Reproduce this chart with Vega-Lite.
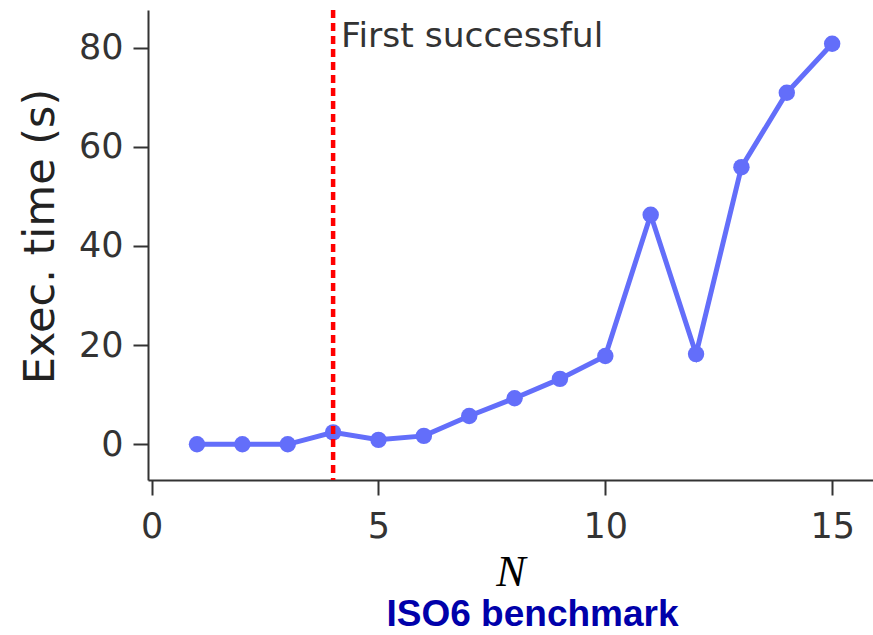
{
  "$schema": "https://vega.github.io/schema/vega-lite/v6.json",
  "autosize": "none",
  "padding": {"left": 148, "top": 10, "right": 0, "bottom": 155},
  "width": 725,
  "height": 470,
  "background": "white",
  "title": {
    "text": "ISO6 benchmark",
    "orient": "bottom",
    "anchor": "middle",
    "dx": 22,
    "offset": 3,
    "font": "Liberation Sans",
    "fontSize": 37,
    "fontWeight": "bold",
    "color": "#0000AA"
  },
  "config": {
    "view": {"stroke": null},
    "axis": {
      "grid": false,
      "domainColor": "#333333",
      "domainWidth": 2,
      "tickColor": "#333333",
      "tickWidth": 2,
      "tickSize": 15,
      "labelFont": "DejaVu Sans",
      "labelFontSize": 35,
      "labelColor": "#333333"
    }
  },
  "datasets": {
    "runs": [
      {"N": 1, "time": 0.0},
      {"N": 2, "time": 0.0},
      {"N": 3, "time": 0.0},
      {"N": 4, "time": 2.4},
      {"N": 5, "time": 0.9},
      {"N": 6, "time": 1.7},
      {"N": 7, "time": 5.7},
      {"N": 8, "time": 9.3},
      {"N": 9, "time": 13.2},
      {"N": 10, "time": 17.8},
      {"N": 11, "time": 46.3},
      {"N": 12, "time": 18.2},
      {"N": 13, "time": 55.9},
      {"N": 14, "time": 70.9},
      {"N": 15, "time": 80.8}
    ],
    "marker": [
      {"N": 4, "time": 80.2, "label": "First successful"}
    ]
  },
  "layer": [
    {
      "data": {"name": "runs"},
      "mark": {"type": "line", "color": "#636EFA", "strokeWidth": 5, "point": {"filled": true, "size": 270, "color": "#636EFA", "opacity": 1}},
      "encoding": {
        "x": {
          "field": "N", "type": "quantitative",
          "scale": {"domain": [-0.08, 15.9], "nice": false, "zero": false},
          "axis": {
            "values": [0, 5, 10, 15],
            "labelPadding": 14,
            "title": "N",
            "titleFont": "Liberation Serif",
            "titleFontStyle": "italic",
            "titleFontWeight": "normal",
            "titleFontSize": 44,
            "titleColor": "#000000",
            "titlePadding": 6
          }
        },
        "y": {
          "field": "time", "type": "quantitative",
          "scale": {"domain": [-7.2, 87.6], "nice": false, "zero": false},
          "axis": {
            "values": [0, 20, 40, 60, 80],
            "labelPadding": 10,
            "title": "Exec. time (s)",
            "titleFont": "DejaVu Sans",
            "titleFontWeight": "normal",
            "titleFontSize": 43,
            "titleColor": "#222222",
            "titlePadding": 16,
            "titleY": 226
          }
        }
      }
    },
    {
      "data": {"name": "marker"},
      "mark": {"type": "rule", "color": "#FF0000", "strokeWidth": 4.5, "strokeDash": [8, 5]},
      "encoding": {
        "x": {"field": "N", "type": "quantitative"}
      }
    },
    {
      "data": {"name": "marker"},
      "mark": {"type": "text", "align": "left", "baseline": "alphabetic", "dx": 8, "font": "DejaVu Sans", "fontSize": 34.5, "color": "#333333"},
      "encoding": {
        "x": {"field": "N", "type": "quantitative"},
        "y": {"field": "time", "type": "quantitative"},
        "text": {"field": "label"}
      }
    }
  ]
}
